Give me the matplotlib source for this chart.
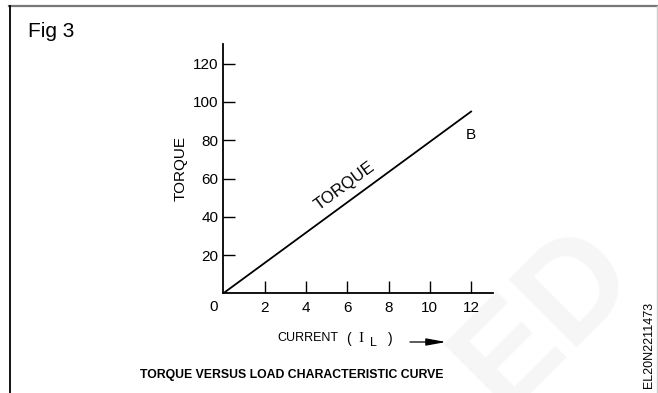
import matplotlib.pyplot as plt
from matplotlib.lines import Line2D
from matplotlib.patches import FancyArrowPatch

plt.rcParams['font.family'] = ['Liberation Sans', 'DejaVu Sans']

# data
current = [0, 12]
torque = [0, 95]
xticks = [2, 4, 6, 8, 10, 12]
yticks = [20, 40, 60, 80, 100, 120]

W, H = 658, 393
fig = plt.figure(figsize=(W / 100, H / 100), dpi=100)
ax = fig.add_axes([223.3 / W, 1 - 293.3 / H, (493 - 223.3) / W, (293.3 - 44) / H])

ax.plot(current, torque, color='black', lw=1.3)
ax.set_xlim(0, 13.06)
ax.set_ylim(0, 130.3)
ax.set_xticks(xticks)
ax.set_yticks(yticks)
ax.tick_params(direction='in', length=8.6, width=1, labelsize=11, color='black')
ax.tick_params(axis='x', pad=5.5)
ax.tick_params(axis='y', pad=3.6)
for s in ['top', 'right']:
    ax.spines[s].set_visible(False)
for s in ['left', 'bottom']:
    ax.spines[s].set_linewidth(1.3)

ax.annotate('0', (0, 0), xytext=(-7.2, -10), textcoords='offset points',
            ha='center', va='center', fontsize=11)
ax.set_ylabel('TORQUE', fontsize=11, labelpad=4)
ax.text(5.89, 56.2, 'TORQUE', rotation=36.3, rotation_mode='anchor',
        ha='center', va='center', fontsize=12)
ax.text(12.0, 82.9, 'B', ha='center', va='center', fontsize=11)

# axis caption pieces and arrow
fy = lambda py: 1 - py / H
fig.text(277 / W, fy(338), 'CURRENT', ha='left', va='center', fontsize=9)
fig.text(349 / W, fy(339), '(', ha='center', va='center', fontsize=10)
fig.text(361 / W, fy(338), 'I', ha='center', va='center', fontsize=11,
         family='Liberation Serif')
fig.text(373.5 / W, fy(343), 'L', ha='center', va='center', fontsize=9)
fig.text(390 / W, fy(339), ')', ha='center', va='center', fontsize=10)
fig.add_artist(FancyArrowPatch((410 / W, fy(342)), (446 / W, fy(342)),
                               transform=fig.transFigure,
                               arrowstyle='-|>,head_length=12,head_width=2.2',
                               mutation_scale=1, color='black', lw=0.9,
                               shrinkA=0, shrinkB=0))

fig.text(292 / W, fy(375), 'TORQUE VERSUS LOAD CHARACTERISTIC CURVE',
         ha='center', va='center', fontsize=8.8, fontweight='bold')
fig.text(28 / W, fy(37), 'Fig 3', ha='left', va='baseline', fontsize=15)

# watermark and id
fig.text(545 / W, fy(318), 'ED', rotation=45, ha='center', va='center',
         fontsize=100, fontweight='bold', color='#f6f6f6', zorder=-5)
fig.text(649 / W, fy(345), 'EL20N2211473', rotation=90, ha='center', va='center',
         fontsize=9)

# frame
fig.add_artist(Line2D([9 / W, 657 / W], [fy(5.5), fy(5.5)], color='#777777', lw=1.6))
fig.add_artist(Line2D([9.5 / W, 9.5 / W], [0, fy(5.5)], color='black', lw=1.3))
fig.add_artist(Line2D([656.5 / W, 656.5 / W], [0, fy(5.5)], color='#cccccc', lw=1))

fig.savefig('out.png', dpi=100)
